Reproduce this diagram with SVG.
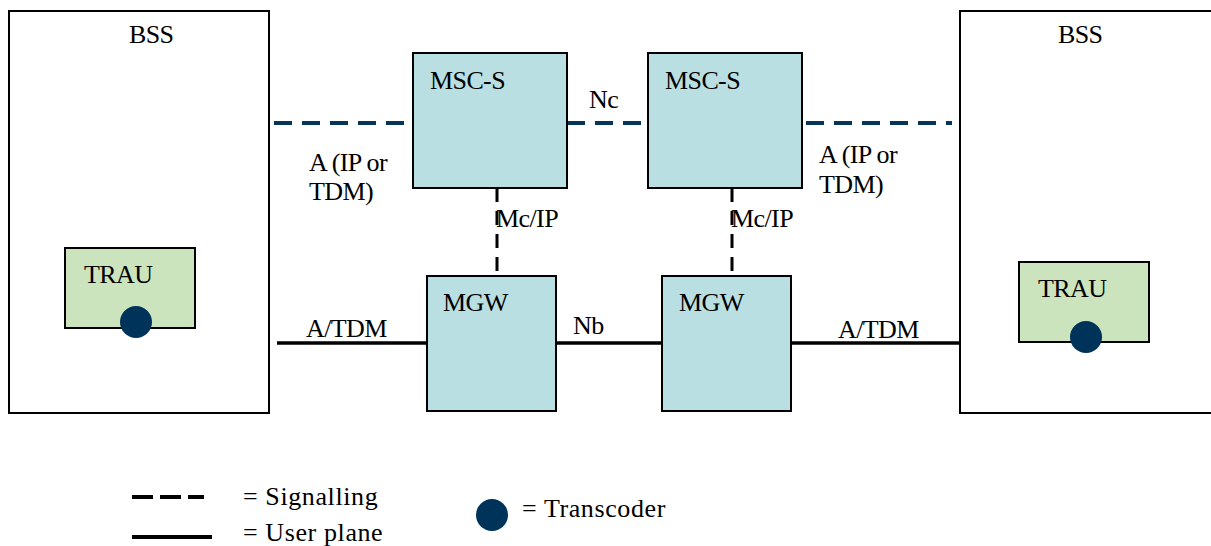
<svg xmlns="http://www.w3.org/2000/svg" width="1211" height="546" viewBox="0 0 1211 546" font-family="'Liberation Serif', 'DejaVu Serif', 'Times New Roman', serif">
<style>
text{font-family:"Liberation Serif","DejaVu Serif","Times New Roman",serif;font-size:26px;fill:#000;letter-spacing:-0.6px}
.lg{letter-spacing:0.6px}
.bss{fill:#fff;stroke:#000;stroke-width:2}
.msc{fill:#b9dfe3;stroke:#000;stroke-width:2}
.trau{fill:#cce4bd;stroke:#000;stroke-width:2}
.sig{stroke:#06355a;stroke-width:4;stroke-dasharray:18 10;fill:none}
.mc{stroke:#000;stroke-width:3;stroke-dasharray:14 9;fill:none}
.up{stroke:#000;stroke-width:3.5;fill:none}
.tc{fill:#003359}
</style>
<rect width="1211" height="546" fill="#fff"/>
<g id="connectors">
<line class="sig" x1="274" y1="123" x2="413" y2="123"/>
<line class="sig" x1="567" y1="123" x2="648" y2="123"/>
<line class="sig" x1="806" y1="123" x2="952" y2="123"/>
<line class="mc" x1="497" y1="188" x2="497" y2="276"/>
<line class="mc" x1="732" y1="188" x2="732" y2="276"/>
<line class="up" x1="277" y1="343" x2="427" y2="343"/>
<line class="up" x1="556" y1="343" x2="662" y2="343"/>
<line class="up" x1="791" y1="343" x2="960" y2="343"/>
</g>
<g id="bss-left">
<rect class="bss" x="9" y="11" width="260" height="402"/>
<text x="129" y="43">BSS</text>
</g>
<g id="trau-left">
<rect class="trau" x="65" y="248" width="130" height="80"/>
<text x="84" y="283">TRAU</text>
<circle class="tc" cx="136" cy="322" r="16"/>
</g>
<g id="bss-right">
<rect class="bss" x="960" y="11" width="260" height="402"/>
<text x="1058" y="43">BSS</text>
</g>
<g id="trau-right">
<rect class="trau" x="1019" y="262" width="130" height="80"/>
<text x="1038" y="297">TRAU</text>
<circle class="tc" cx="1086" cy="337" r="16"/>
</g>
<g id="msc-left">
<rect class="msc" x="413" y="53" width="154" height="135"/>
<text x="430" y="89">MSC-S</text>
</g>
<g id="msc-right">
<rect class="msc" x="648" y="53" width="154" height="135"/>
<text x="665" y="89">MSC-S</text>
</g>
<g id="mgw-left">
<rect class="msc" x="427" y="276" width="129" height="135"/>
<text x="443" y="311">MGW</text>
</g>
<g id="mgw-right">
<rect class="msc" x="662" y="276" width="129" height="135"/>
<text x="679" y="311">MGW</text>
</g>
<g id="labels">
<text x="309" y="171">A (IP or</text>
<text x="309" y="200">TDM)</text>
<text x="819" y="163">A (IP or</text>
<text x="819" y="193">TDM)</text>
<text x="589" y="108">Nc</text>
<text x="496" y="227">Mc/IP</text>
<text x="731" y="227">Mc/IP</text>
<text x="573" y="334">Nb</text>
<text x="306" y="337">A/TDM</text>
<text x="838" y="338">A/TDM</text>
</g>
<g id="legend">
<line class="mc" x1="132" y1="497" x2="204" y2="497" style="stroke-dasharray:21 7;stroke-width:4"/>
<line class="up" x1="132" y1="537" x2="212" y2="537" style="stroke-width:4"/>
<text class="lg" x="243" y="505">= Signalling</text>
<text class="lg" x="243" y="541">= User plane</text>
<circle class="tc" cx="492" cy="515" r="16"/>
<text class="lg" x="522" y="517">= Transcoder</text>
</g>
</svg>
